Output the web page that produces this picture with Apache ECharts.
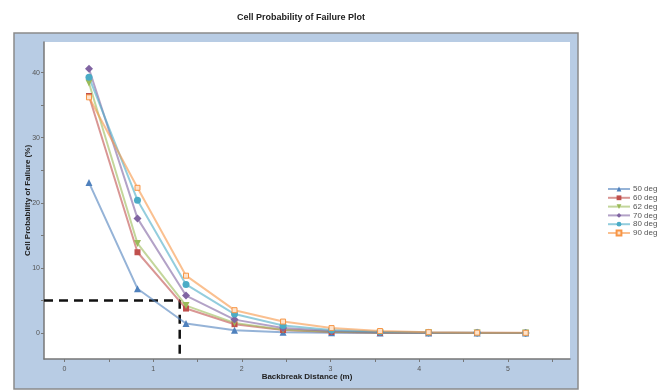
<!DOCTYPE html>
<html>
<head>
<meta charset="utf-8">
<script src="https://cdn.jsdelivr.net/npm/echarts@6/dist/echarts.min.js"></script>
<style>
  html, body { margin: 0; padding: 0; background: #fff; }
  #chart-container { width: 667px; height: 391px; }
</style>
</head>
<body>
<div id="chart-container"></div>
<script>
// distances (m) where the probability was computed
var distances = [0.277, 0.824, 1.371, 1.918, 2.465, 3.012, 3.559, 4.106, 4.653, 5.2];

// probability of failure (%) per slope angle
var names = ['50 deg', '60 deg', '62 deg', '70 deg', '80 deg', '90 deg'];
var deg50 = [23.1, 6.8, 1.45, 0.4, 0.1, 0.03, 0.01, 0, 0, 0];
var deg60 = [36.4, 12.4, 3.75, 1.35, 0.45, 0.15, 0.05, 0.02, 0.01, 0];
var deg62 = [38.4, 13.75, 4.2, 1.55, 0.5, 0.2, 0.07, 0.03, 0.01, 0];
var deg70 = [40.6, 17.6, 5.75, 2.05, 0.75, 0.3, 0.11, 0.04, 0.02, 0.01];
var deg80 = [39.3, 20.4, 7.45, 2.9, 1.15, 0.45, 0.18, 0.07, 0.03, 0.01];
var deg90 = [36.2, 22.3, 8.8, 3.5, 1.75, 0.75, 0.3, 0.12, 0.05, 0.02];

// cutoff (dashed guide)
var cutoffX = 1.3;
var cutoffY = 5;

// axes
var xRange = [-0.23, 5.7];
var yRange = [-4, 44.7];
var xLabels = [0, 1, 2, 3, 4, 5];
var xTicks = [0, 0.5, 1, 1.5, 2, 2.5, 3, 3.5, 4, 4.5, 5, 5.5];
var yLabels = [0, 10, 20, 30, 40];
var yTicks = [0, 5, 10, 15, 20, 25, 30, 35, 40];

var colors = ['#4f81bd', '#c0504d', '#9bbb59', '#8064a2', '#4bacc6', '#f79646'];
var fills = ['#4f81bd', '#c0504d', '#9bbb59', '#8064a2', '#4bacc6', '#fde3cc'];
var symbols = ['triangle', 'rect', 'triangle', 'diamond', 'circle', 'rect'];
var rotations = [0, 0, 180, 0, 0, 0];
var sizes = [7, 6, 7, 8, 7, 5];
var values = [deg50, deg60, deg62, deg70, deg80, deg90];

var dom = document.getElementById('chart-container');
var myChart = echarts.init(dom, null, { renderer: 'canvas' });

var font = 'Liberation Sans';

var series = names.map(function (n, i) {
  return {
    name: n,
    type: 'line',
    data: distances.map(function (d, j) { return [d, values[i][j]]; }),
    symbol: symbols[i],
    symbolRotate: rotations[i],
    symbolSize: sizes[i],
    color: colors[i],
    itemStyle: {
      color: fills[i],
      borderColor: colors[i],
      borderWidth: i === 5 ? 1 : 0
    },
    lineStyle: { color: colors[i], width: 2, opacity: 0.6 },
    z: 3,
    animation: false
  };
});

series.push({
  name: 'cutoff',
  type: 'line',
  data: [[xRange[0], cutoffY], [cutoffX, cutoffY], [cutoffX, yRange[0]]],
  symbol: 'none',
  lineStyle: { color: '#111', width: 2.5, type: [9, 6] },
  z: 2,
  animation: false
});

var option = {
  animation: false,
  textStyle: { fontFamily: font },
  title: {
    text: 'Cell Probability of Failure Plot',
    left: 296,
    top: 8,
    textAlign: 'center',
    textStyle: { fontSize: 9, fontWeight: 'bold', color: '#222', fontFamily: font }
  },
  graphic: [{
    type: 'rect',
    shape: { x: 14, y: 33, width: 564, height: 356 },
    style: { fill: '#b8cce4', stroke: '#8a8a8a', lineWidth: 1.5 },
    z: -10
  }],
  legend: {
    data: names,
    orient: 'vertical',
    left: 602,
    top: 180,
    itemWidth: 22,
    itemHeight: 6,
    itemGap: 0.8,
    textStyle: { fontSize: 8, color: '#555', fontFamily: font, padding: [0, 0, 0, -2] }
  },
  grid: {
    left: 44,
    right: 97,
    top: 42,
    bottom: 32,
    show: true,
    backgroundColor: '#fff',
    borderWidth: 0
  },
  xAxis: {
    type: 'value',
    min: xRange[0],
    max: xRange[1],
    name: 'Backbreak Distance (m)',
    nameLocation: 'middle',
    nameGap: 14,
    nameMoveOverlap: false,
    nameTextStyle: { fontSize: 8, fontWeight: 'bold', color: '#222', fontFamily: font },
    axisLine: { show: true, onZero: false, lineStyle: { color: '#777', width: 1.5 } },
    axisTick: { show: true, customValues: xTicks, length: 3, lineStyle: { color: '#777' } },
    axisLabel: { customValues: xLabels, fontSize: 7, color: '#555', margin: 7 },
    splitLine: { show: false }
  },
  yAxis: {
    type: 'value',
    min: yRange[0],
    max: yRange[1],
    name: 'Cell Probability of Failure (%)',
    nameLocation: 'middle',
    nameGap: 12,
    nameMoveOverlap: false,
    nameTextStyle: { fontSize: 8, fontWeight: 'bold', color: '#222', fontFamily: font },
    axisLine: { show: true, onZero: false, lineStyle: { color: '#777', width: 1.5 } },
    axisTick: { show: true, customValues: yTicks, length: 3, lineStyle: { color: '#777' } },
    axisLabel: { customValues: yLabels, fontSize: 7, color: '#555', margin: 4 },
    splitLine: { show: false }
  },
  series: series
};

myChart.setOption(option);

window.addEventListener('resize', myChart.resize);
</script>
</body>
</html>
